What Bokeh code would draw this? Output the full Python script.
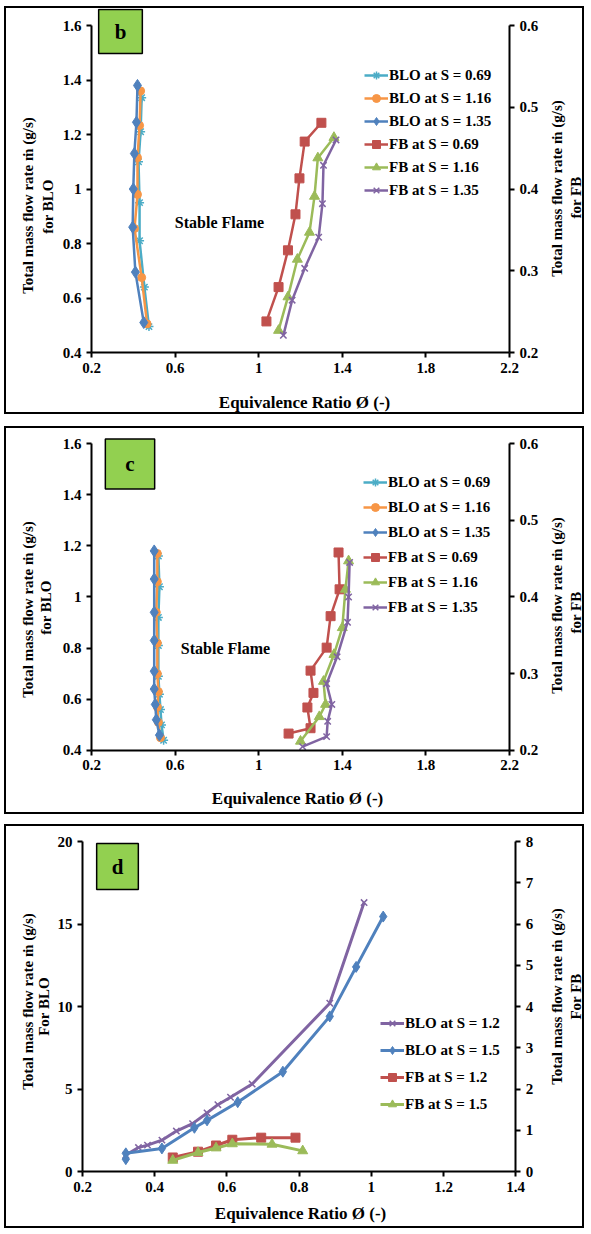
import math
from bokeh.plotting import figure
from bokeh.models import LinearAxis, Range1d, FixedTicker, Label, NumeralTickFormatter
from bokeh.layouts import column
from bokeh.embed import file_html
from bokeh.resources import INLINE

FONT = "Liberation Serif"
CYAN = "#4BACC6"; ORANGE = "#F79646"; BLUE = "#4F81BD"
RED = "#C0504D"; GREEN = "#9BBB59"; PURPLE = "#8064A2"
BOXG = "#92D050"

# ---------------- panel b ----------------
b_blo069_x = [0.475, 0.453, 0.43, 0.43, 0.425, 0.435, 0.44]
b_blo069_y = [0.495, 0.64, 0.81, 0.95, 1.10, 1.21, 1.335]
b_blo116_x = [0.466, 0.44, 0.406, 0.42, 0.42, 0.43, 0.435]
b_blo116_y = [0.505, 0.675, 0.855, 0.98, 1.115, 1.233, 1.36]
b_blo135_x = [0.45, 0.41, 0.397, 0.40, 0.405, 0.415, 0.42]
b_blo135_y = [0.51, 0.695, 0.86, 1.0, 1.13, 1.245, 1.38]
b_fb069_x = [1.037, 1.095, 1.14, 1.176, 1.195, 1.22, 1.30]
b_fb069_y = [0.238, 0.28, 0.325, 0.369, 0.413, 0.458, 0.481]
b_fb116_x = [1.095, 1.14, 1.185, 1.243, 1.267, 1.283, 1.36]
b_fb116_y = [0.227, 0.268, 0.314, 0.347, 0.391, 0.438, 0.463]
b_fb135_x = [1.118, 1.16, 1.22, 1.287, 1.305, 1.31, 1.37]
b_fb135_y = [0.221, 0.264, 0.303, 0.341, 0.382, 0.429, 0.46]

# ---------------- panel c ----------------
c_blo069_x = [0.545, 0.535, 0.53, 0.525, 0.52, 0.52, 0.52, 0.525, 0.52]
c_blo069_y = [0.44, 0.50, 0.56, 0.62, 0.69, 0.81, 0.92, 1.04, 1.16]
c_blo116_x = [0.53, 0.52, 0.515, 0.52, 0.515, 0.515, 0.51, 0.515, 0.515]
c_blo116_y = [0.45, 0.51, 0.57, 0.63, 0.70, 0.82, 0.94, 1.06, 1.17]
c_blo135_x = [0.525, 0.51, 0.505, 0.50, 0.50, 0.50, 0.50, 0.50, 0.50]
c_blo135_y = [0.46, 0.52, 0.58, 0.64, 0.71, 0.83, 0.94, 1.07, 1.18]
c_fb069_x = [1.143, 1.248, 1.233, 1.262, 1.248, 1.325, 1.344, 1.387, 1.382]
c_fb069_y = [0.222, 0.229, 0.256, 0.275, 0.304, 0.334, 0.375, 0.41, 0.458]
c_fb116_x = [1.20, 1.29, 1.32, 1.31, 1.36, 1.40, 1.415, 1.43]
c_fb116_y = [0.212, 0.244, 0.26, 0.29, 0.325, 0.36, 0.41, 0.447]
c_fb135_x = [1.21, 1.325, 1.33, 1.35, 1.325, 1.375, 1.425, 1.43, 1.435]
c_fb135_y = [0.205, 0.218, 0.238, 0.26, 0.287, 0.322, 0.367, 0.40, 0.445]

# ---------------- panel d ----------------
d_blo12_x = [0.32, 0.355, 0.38, 0.42, 0.46, 0.505, 0.545, 0.575, 0.61, 0.67, 0.885, 0.98]
d_blo12_y = [1.0, 1.45, 1.6, 1.9, 2.45, 2.9, 3.55, 4.05, 4.5, 5.3, 10.2, 16.3]
d_blo15_x = [0.32, 0.32, 0.42, 0.51, 0.545, 0.63, 0.755, 0.885, 0.958, 1.033]
d_blo15_y = [0.75, 1.1, 1.4, 2.65, 3.1, 4.2, 6.05, 9.4, 12.4, 15.45]
d_fb12_x = [0.45, 0.52, 0.57, 0.615, 0.695, 0.79]
d_fb12_y = [0.34, 0.48, 0.63, 0.77, 0.82, 0.82]
d_fb15_x = [0.45, 0.52, 0.57, 0.615, 0.725, 0.81]
d_fb15_y = [0.27, 0.46, 0.57, 0.67, 0.66, 0.50]

YLABEL = "Total mass flow rate \u1e41 (g/s)"
XLABEL = "Equivalence Ratio \u00d8 (-)"


def style_axis(ax, ticks, bounds, loc):
    ax.ticker = FixedTicker(ticks=ticks)
    ax.formatter = NumeralTickFormatter(format="0.[0]")
    ax.bounds = bounds
    ax.fixed_location = loc
    ax.axis_line_width = 2
    ax.axis_line_color = "black"
    ax.major_tick_line_width = 2
    ax.major_tick_line_color = "black"
    ax.major_tick_out = 5
    ax.major_tick_in = 0
    ax.minor_tick_line_color = None
    ax.major_label_text_font = FONT
    ax.major_label_text_font_style = "bold"
    ax.major_label_text_font_size = "15px"
    ax.major_label_text_color = "black"
    ax.major_label_standoff = 5


def text(p, x, y, s, size, angle=0.0, **kw):
    p.add_layout(Label(x=x, y=y, text=s, angle=angle, text_align="center",
                       text_baseline="middle", text_font=FONT, text_font_style="bold",
                       text_font_size=size, text_color="black", **kw))


class Panel:
    def __init__(self, box, margin, xmap, ymap, y2map, xb, yb, y2b,
                 xticks, yticks, y2ticks):
        cx0, cy0, cx1, cy1 = box
        self.xa, self.xpx, self.xs = xmap
        self.ya, self.ypx, self.ys = ymap
        y2a, y2px, y2s = y2map
        X, Y = self.X, self.Y
        Y2 = lambda py: y2a - (py - y2px) / y2s
        p = figure(width=cx1 - cx0, height=cy1 - cy0,
                   x_range=Range1d(X(cx0), X(cx1)), y_range=Range1d(Y(cy1), Y(cy0)),
                   output_backend="svg", toolbar_location=None,
                   min_border_left=0, min_border_right=0,
                   min_border_top=0, min_border_bottom=0,
                   background_fill_color="white", border_fill_color="white")
        p.margin = margin
        p.styles = {"border": "2px solid black"}
        p.outline_line_color = None
        p.xgrid.visible = False
        p.ygrid.visible = False
        p.extra_y_ranges = {"r": Range1d(Y2(cy1), Y2(cy0))}
        ax2 = LinearAxis(y_range_name="r")
        p.add_layout(ax2, "right")
        style_axis(p.xaxis[0], xticks, xb, yb[0])
        style_axis(p.yaxis[0], yticks, yb, xb[0])
        style_axis(ax2, y2ticks, y2b, xb[1])
        self.p = p

    def X(self, px):
        return self.xa + (px - self.xpx) / self.xs

    def Y(self, py):
        return self.ya - (py - self.ypx) / self.ys

    def t(self, px, py, s, size, angle=0.0, **kw):
        text(self.p, self.X(px), self.Y(py), s, size, angle, **kw)

    def tag(self, s, px, py, pad):
        self.t(px, py, s, "21px", background_fill_color=BOXG,
               border_line_color="black", border_line_width=1.5, padding=pad)


def finish_legend(p, loc, spacing):
    lg = p.legend[0]
    lg.location = loc
    lg.padding = 0
    lg.margin = 0
    lg.spacing = spacing
    lg.glyph_width = 24
    lg.glyph_height = 20
    lg.label_height = 20
    lg.label_standoff = 1
    lg.border_line_color = None
    lg.background_fill_alpha = 0
    lg.label_text_font = FONT
    lg.label_text_font_style = "bold"
    lg.label_text_font_size = "15px"
    lg.label_text_color = "black"


def add_series(p, x, y, color, marker, size, label, yname="default", lw=2.5):
    p.line(x, y, line_color=color, line_width=lw, legend_label=label, y_range_name=yname)
    if marker in ("asterisk", "x"):
        p.scatter(x, y, marker=marker, size=size, line_color=color, line_width=1.5,
                  legend_label=label, y_range_name=yname)
    else:
        p.scatter(x, y, marker=marker, size=size, fill_color=color, line_color=color,
                  legend_label=label, y_range_name=yname)


V = math.pi / 2

# ----- b -----
B = Panel((6, 8, 586, 416), (6, 0, 0, 4), (0.2, 91, 209), (1.6, 25, 272.5), (0.6, 25, 817.5),
          (0.2, 2.2), (0.4, 1.6), (0.2, 0.6),
          [0.2, 0.6, 1.0, 1.4, 1.8, 2.2], [0.4, 0.6, 0.8, 1.0, 1.2, 1.4, 1.6],
          [0.2, 0.3, 0.4, 0.5, 0.6])
pb = B.p
add_series(pb, b_blo069_x, b_blo069_y, CYAN, "asterisk", 9, "BLO at S = 0.69")
add_series(pb, b_blo116_x, b_blo116_y, ORANGE, "circle", 8, "BLO at S = 1.16")
add_series(pb, b_blo135_x, b_blo135_y, BLUE, "diamond", 12, "BLO at S = 1.35")
add_series(pb, b_fb069_x, b_fb069_y, RED, "square", 9, "FB at S = 0.69", "r")
add_series(pb, b_fb116_x, b_fb116_y, GREEN, "triangle", 10, "FB at S = 1.16", "r")
add_series(pb, b_fb135_x, b_fb135_y, PURPLE, "x", 9, "FB at S = 1.35", "r")
B.t(219, 222, "Stable Flame", "16px")
B.t(304, 402, XLABEL, "17px")
B.t(27, 205, YLABEL, "15px", V)
B.t(47, 206, "for BLO", "15px", V)
B.t(556, 188, YLABEL, "15px", V)
B.t(575, 197, "for FB", "15px", V)
B.tag("b", 120, 31, (16, 10))
finish_legend(pb, (358, 216), 3)

# ----- c -----
C = Panel((6, 428, 586, 816), (12, 0, 0, 4), (0.2, 91, 209), (1.6, 443, 255.8), (0.6, 443, 767.4),
          (0.2, 2.2), (0.4, 1.6), (0.2, 0.6),
          [0.2, 0.6, 1.0, 1.4, 1.8, 2.2], [0.4, 0.6, 0.8, 1.0, 1.2, 1.4, 1.6],
          [0.2, 0.3, 0.4, 0.5, 0.6])
pc = C.p
add_series(pc, c_blo069_x, c_blo069_y, CYAN, "asterisk", 9, "BLO at S = 0.69")
add_series(pc, c_blo116_x, c_blo116_y, ORANGE, "circle", 8, "BLO at S = 1.16")
add_series(pc, c_blo135_x, c_blo135_y, BLUE, "diamond", 12, "BLO at S = 1.35")
add_series(pc, c_fb069_x, c_fb069_y, RED, "square", 9, "FB at S = 0.69", "r")
add_series(pc, c_fb116_x, c_fb116_y, GREEN, "triangle", 10, "FB at S = 1.16", "r")
add_series(pc, c_fb135_x, c_fb135_y, PURPLE, "x", 9, "FB at S = 1.35", "r")
C.t(225, 648, "Stable Flame", "16px")
C.t(297, 798, XLABEL, "17px")
C.t(27, 609, YLABEL, "15px", V)
C.t(45, 607, "for BLO", "15px", V)
C.t(556, 605, YLABEL, "15px", V)
C.t(575, 612, "for FB", "15px", V)
C.tag("c", 129.5, 463.5, (20, 13))
finish_legend(pc, (357, 199), 5)

# ----- d -----
D = Panel((6, 826, 586, 1230), (10, 0, 0, 4), (0.2, 82, 361), (20, 841, 16.5), (8, 841, 41.25),
          (0.2, 1.4), (0, 20), (0, 8),
          [0.2, 0.4, 0.6, 0.8, 1.0, 1.2, 1.4], [0, 5, 10, 15, 20],
          [0, 1, 2, 3, 4, 5, 6, 7, 8])
pd = D.p
add_series(pd, d_blo12_x, d_blo12_y, PURPLE, "x", 9, "BLO at S = 1.2", lw=3)
add_series(pd, d_blo15_x, d_blo15_y, BLUE, "diamond", 11, "BLO at S = 1.5", lw=3)
add_series(pd, d_fb12_x, d_fb12_y, RED, "square", 9, "FB at S = 1.2", "r", lw=3)
add_series(pd, d_fb15_x, d_fb15_y, GREEN, "triangle", 10, "FB at S = 1.5", "r", lw=3)
D.t(300, 1213, XLABEL, "17px")
D.t(27, 1001, YLABEL, "15px", V)
D.t(43, 1006, "For BLO", "15px", V)
D.t(556, 996, YLABEL, "15px", V)
D.t(575, 996, "For FB", "15px", V)
D.tag("d", 117, 866, (15, 11))
finish_legend(pd, (374, 116), 7)

layout = column(pb, pc, pd, spacing=0)
open("out.html", "w").write(file_html(layout, INLINE))
